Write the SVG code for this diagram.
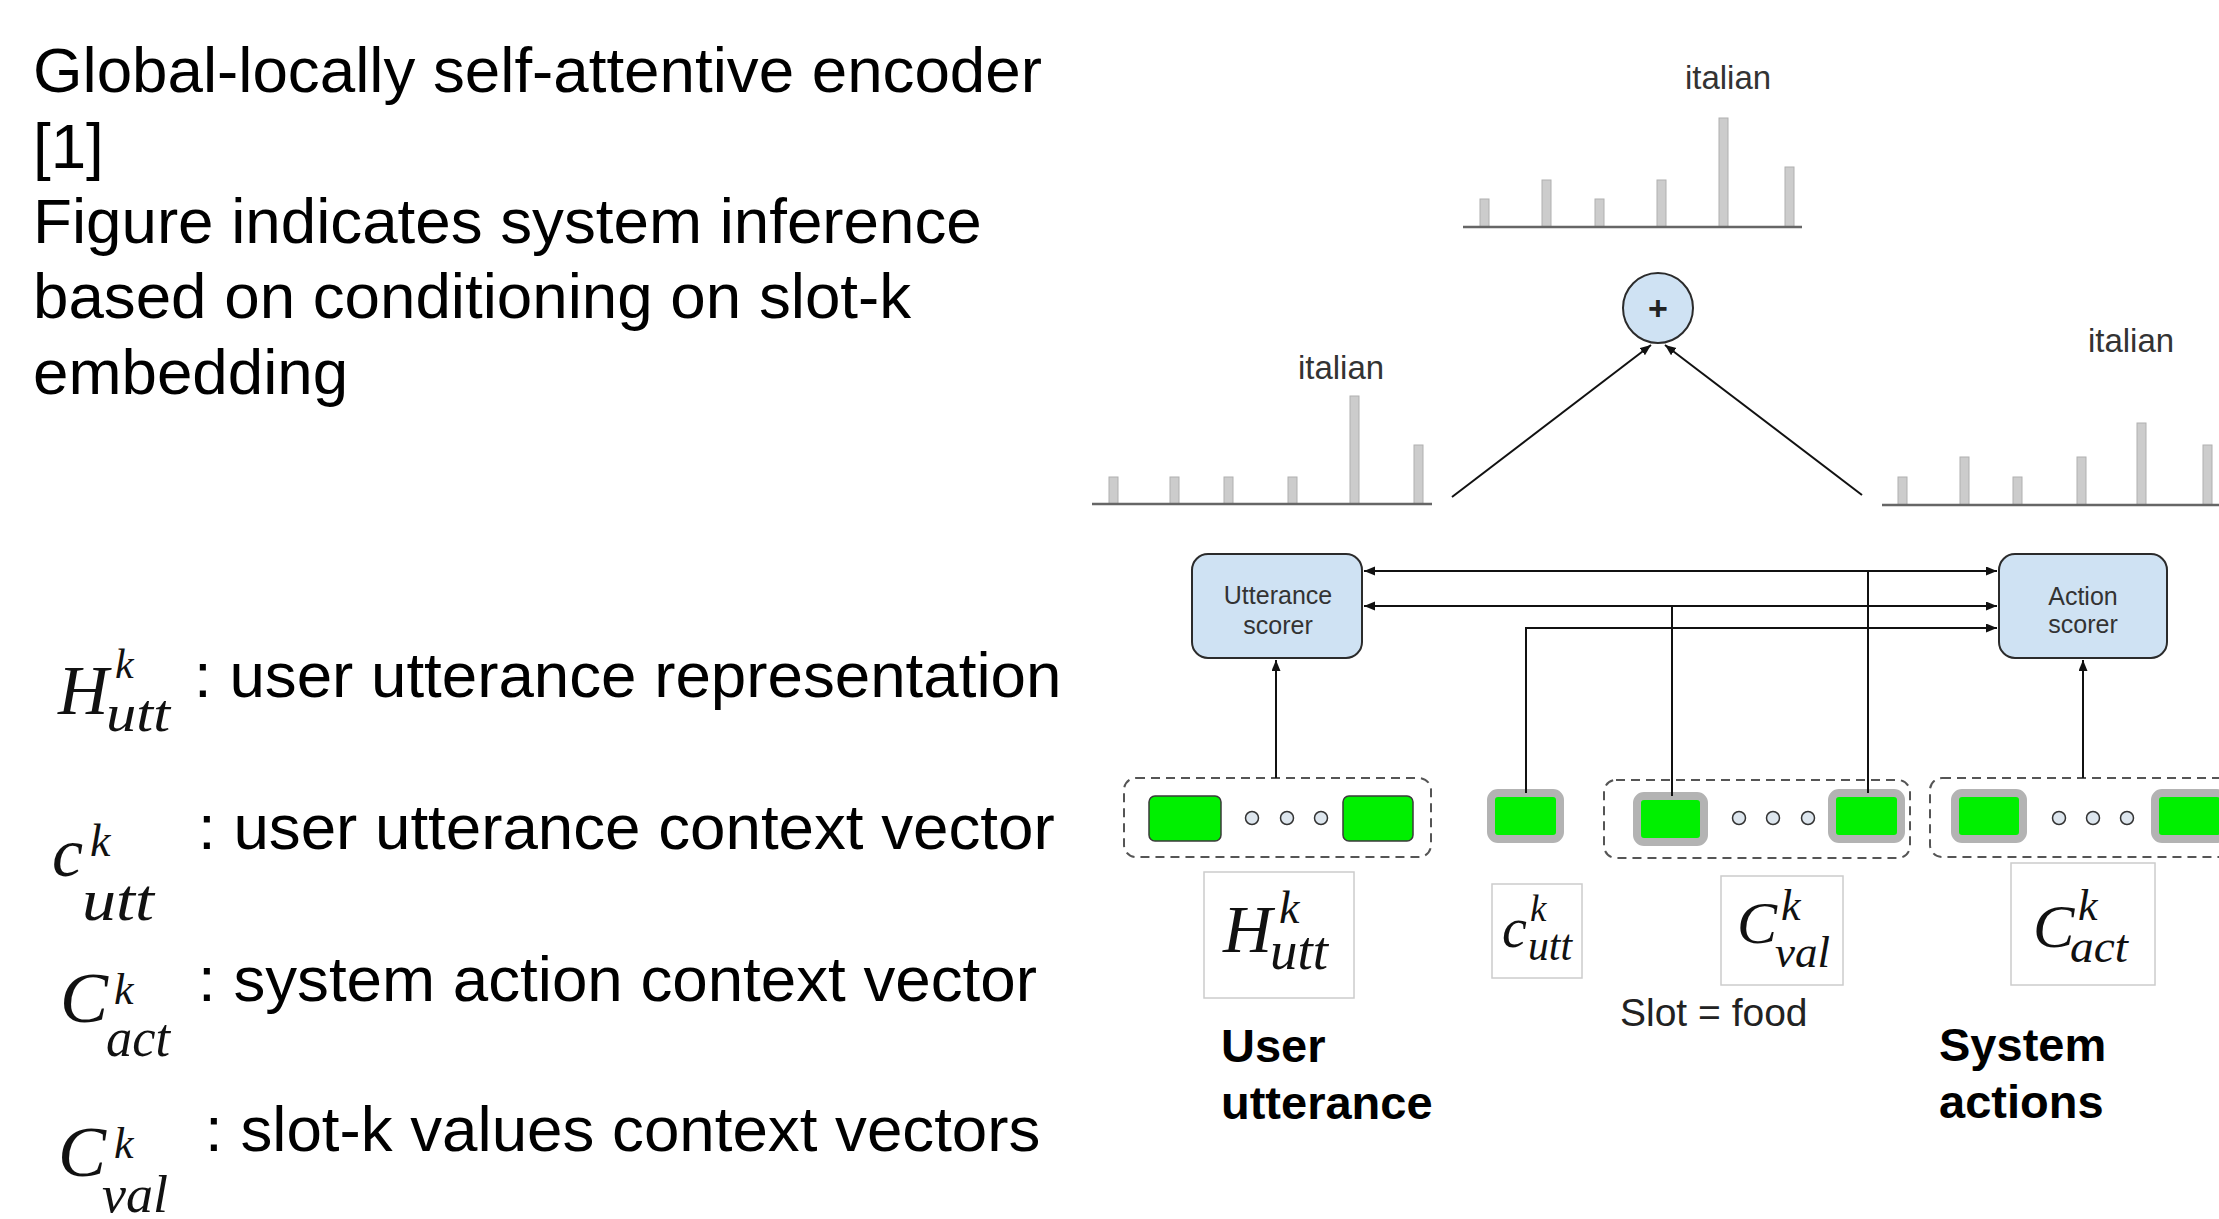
<svg xmlns="http://www.w3.org/2000/svg" width="2219" height="1219" viewBox="0 0 2219 1219">
<style>
.txt{font-family:"Liberation Sans",Arial,sans-serif;fill:#000}
.big{font-size:63.7px}
.ital{font-family:"Liberation Serif","Times New Roman",serif;font-style:italic;fill:#111}
.lbl{font-family:"Liberation Sans",Arial,sans-serif;font-size:33px;fill:#333;text-anchor:middle}
.bold{font-family:"Liberation Sans",Arial,sans-serif;font-weight:bold;font-size:47px;fill:#000}
.bar{fill:#cccccc;stroke:#b0b0b0;stroke-width:1}
.axis{stroke:#666;stroke-width:2.5}
.scorer{fill:#cfe2f3;stroke:#2b2b2b;stroke-width:2}
.stxt{font-family:"Liberation Sans",Arial,sans-serif;font-size:25px;fill:#333;text-anchor:middle}
.dash{fill:none;stroke:#555;stroke-width:2;stroke-dasharray:9 6}
.g1{fill:#00f000;stroke:#3a3a3a;stroke-width:1.5}
.g2{fill:#00f000;stroke:#b3b3b3;stroke-width:8}
.dot{fill:#dde6ee;stroke:#333;stroke-width:1.5}
.frame{fill:#fff;stroke:#cccccc;stroke-width:1.5}
.conn{fill:none;stroke:#111;stroke-width:2}
</style>
<defs>
<marker id="ah" markerUnits="userSpaceOnUse" markerWidth="12" markerHeight="10" refX="11" refY="4.5" orient="auto-start-reverse">
<path d="M0,0 L11,4.5 L0,9 z" fill="#111"/>
</marker>
</defs>

<g id="heading">
<text class="txt big" x="33" y="92">Global-locally self-attentive encoder</text>
<text class="txt big" x="33" y="168">[1]</text>
<text class="txt big" x="33" y="243">Figure indicates system inference</text>
<text class="txt big" x="33" y="318">based on conditioning on slot-k</text>
<text class="txt big" x="33" y="394">embedding</text>
</g>

<g id="legend">
<g id="legend-hutt">
<text class="ital" x="58" y="714" font-size="70">H</text>
<text class="ital" x="115" y="678" font-size="42">k</text>
<text class="ital" x="106" y="731" font-size="52" textLength="64" lengthAdjust="spacingAndGlyphs">utt</text>
<text class="txt big" x="194" y="697">: user utterance representation</text>
</g>
<g id="legend-cutt">
<text class="ital" x="52" y="876" font-size="70">c</text>
<text class="ital" x="90" y="856" font-size="46">k</text>
<text class="ital" x="82" y="920" font-size="60" textLength="72" lengthAdjust="spacingAndGlyphs">utt</text>
<text class="txt big" x="198" y="849">: user utterance context vector</text>
</g>
<g id="legend-cact">
<text class="ital" x="60" y="1022" font-size="72">C</text>
<text class="ital" x="114" y="1004" font-size="44">k</text>
<text class="ital" x="106" y="1056" font-size="54" textLength="64" lengthAdjust="spacingAndGlyphs">act</text>
<text class="txt big" x="198" y="1001">: system action context vector</text>
</g>
<g id="legend-cval">
<text class="ital" x="58" y="1176" font-size="72">C</text>
<text class="ital" x="114" y="1158" font-size="44">k</text>
<text class="ital" x="102" y="1212" font-size="52" textLength="66" lengthAdjust="spacingAndGlyphs">val</text>
<text class="txt big" x="205" y="1151">: slot-k values context vectors</text>
</g>
</g>

<g id="chart-top">
<text class="lbl" x="1728" y="89">italian</text>
<rect class="bar" x="1480" y="199" width="9" height="28"/>
<rect class="bar" x="1542" y="180" width="9" height="47"/>
<rect class="bar" x="1595" y="199" width="9" height="28"/>
<rect class="bar" x="1657" y="180" width="9" height="47"/>
<rect class="bar" x="1719" y="118" width="9" height="109"/>
<rect class="bar" x="1785" y="167" width="9" height="60"/>
<line class="axis" x1="1463" y1="227" x2="1802" y2="227"/>
</g>

<g id="chart-left">
<text class="lbl" x="1341" y="379">italian</text>
<rect class="bar" x="1109" y="477" width="9" height="27"/>
<rect class="bar" x="1170" y="477" width="9" height="27"/>
<rect class="bar" x="1224" y="477" width="9" height="27"/>
<rect class="bar" x="1288" y="477" width="9" height="27"/>
<rect class="bar" x="1350" y="396" width="9" height="108"/>
<rect class="bar" x="1414" y="445" width="9" height="59"/>
<line class="axis" x1="1092" y1="504" x2="1432" y2="504"/>
</g>

<g id="chart-right">
<text class="lbl" x="2131" y="352">italian</text>
<rect class="bar" x="1898" y="477" width="9" height="28"/>
<rect class="bar" x="1960" y="457" width="9" height="48"/>
<rect class="bar" x="2013" y="477" width="9" height="28"/>
<rect class="bar" x="2077" y="457" width="9" height="48"/>
<rect class="bar" x="2137" y="423" width="9" height="82"/>
<rect class="bar" x="2203" y="445" width="9" height="60"/>
<line class="axis" x1="1882" y1="505" x2="2219" y2="505"/>
</g>

<g id="sum-node">
<circle cx="1658" cy="308" r="35" fill="#cfe2f3" stroke="#2b2b2b" stroke-width="2"/>
<text x="1658" y="320" text-anchor="middle" font-family="Liberation Sans, Arial, sans-serif" font-size="34" font-weight="bold" fill="#222">+</text>
</g>

<g id="utterance-scorer">
<rect class="scorer" x="1192" y="554" width="170" height="104" rx="16"/>
<text class="stxt" x="1278" y="604">Utterance</text>
<text class="stxt" x="1278" y="634">scorer</text>
</g>

<g id="action-scorer">
<rect class="scorer" x="1999" y="554" width="168" height="104" rx="16"/>
<text class="stxt" x="2083" y="605">Action</text>
<text class="stxt" x="2083" y="633">scorer</text>
</g>

<g id="utt-vectors">
<rect class="dash" x="1124" y="778" width="307" height="79" rx="12"/>
<rect class="g1" x="1149" y="796" width="72" height="45" rx="6"/>
<circle class="dot" cx="1252" cy="818" r="6.5"/>
<circle class="dot" cx="1287" cy="818" r="6.5"/>
<circle class="dot" cx="1321" cy="818" r="6.5"/>
<rect class="g1" x="1343" y="796" width="70" height="45" rx="6"/>
</g>

<g id="cutt-vector">
<rect class="g2" x="1491" y="793" width="69" height="46" rx="7"/>
</g>

<g id="val-vectors">
<rect class="dash" x="1604" y="780" width="306" height="78" rx="12"/>
<rect class="g2" x="1637" y="796" width="67" height="46" rx="7"/>
<circle class="dot" cx="1739" cy="818" r="6.5"/>
<circle class="dot" cx="1773" cy="818" r="6.5"/>
<circle class="dot" cx="1808" cy="818" r="6.5"/>
<rect class="g2" x="1832" y="793" width="69" height="46" rx="7"/>
</g>

<g id="act-vectors">
<rect class="dash" x="1930" y="778" width="330" height="79" rx="12"/>
<rect class="g2" x="1955" y="793" width="68" height="46" rx="7"/>
<circle class="dot" cx="2059" cy="818" r="6.5"/>
<circle class="dot" cx="2093" cy="818" r="6.5"/>
<circle class="dot" cx="2127" cy="818" r="6.5"/>
<rect class="g2" x="2155" y="793" width="69" height="46" rx="7"/>
</g>

<g id="label-hutt">
<rect class="frame" x="1204" y="872" width="150" height="126"/>
<text class="ital" x="1223" y="952" font-size="68">H</text>
<text class="ital" x="1279" y="923" font-size="46">k</text>
<text class="ital" x="1270" y="969" font-size="54" textLength="58" lengthAdjust="spacingAndGlyphs">utt</text>
</g>

<g id="label-cutt">
<rect class="frame" x="1492" y="884" width="90" height="94"/>
<text class="ital" x="1502" y="947" font-size="56">c</text>
<text class="ital" x="1530" y="921" font-size="37">k</text>
<text class="ital" x="1528" y="960" font-size="44" textLength="44" lengthAdjust="spacingAndGlyphs">utt</text>
</g>

<g id="label-cval">
<rect class="frame" x="1721" y="876" width="122" height="109"/>
<text class="ital" x="1737" y="943" font-size="60">C</text>
<text class="ital" x="1781" y="920" font-size="44">k</text>
<text class="ital" x="1775" y="967" font-size="45" textLength="55" lengthAdjust="spacingAndGlyphs">val</text>
</g>

<g id="label-cact">
<rect class="frame" x="2011" y="863" width="144" height="122"/>
<text class="ital" x="2033" y="947" font-size="62">C</text>
<text class="ital" x="2078" y="920" font-size="44">k</text>
<text class="ital" x="2070" y="962" font-size="47" textLength="58" lengthAdjust="spacingAndGlyphs">act</text>
</g>

<g id="captions">
<text x="1620" y="1026" font-family="Liberation Sans, Arial, sans-serif" font-size="39" fill="#222">Slot = food</text>
<text class="bold" x="1221" y="1062">User</text>
<text class="bold" x="1221" y="1119">utterance</text>
<text class="bold" x="1939" y="1061">System</text>
<text class="bold" x="1939" y="1118">actions</text>
</g>

<g id="connectors">
<line class="conn" x1="1452" y1="497" x2="1651" y2="345" marker-end="url(#ah)"/>
<line class="conn" x1="1862" y1="495" x2="1665" y2="345" marker-end="url(#ah)"/>
<line class="conn" x1="1364" y1="571" x2="1997" y2="571" marker-start="url(#ah)" marker-end="url(#ah)"/>
<line class="conn" x1="1364" y1="606" x2="1997" y2="606" marker-start="url(#ah)" marker-end="url(#ah)"/>
<polyline class="conn" points="1526,793 1526,628 1997,628" marker-end="url(#ah)"/>
<line class="conn" x1="1672" y1="796" x2="1672" y2="606" stroke-width="3"/>
<line class="conn" x1="1868" y1="793" x2="1868" y2="571"/>
<line class="conn" x1="1276" y1="778" x2="1276" y2="660" marker-end="url(#ah)"/>
<line class="conn" x1="2083" y1="778" x2="2083" y2="660" marker-end="url(#ah)"/>
</g>
</svg>
